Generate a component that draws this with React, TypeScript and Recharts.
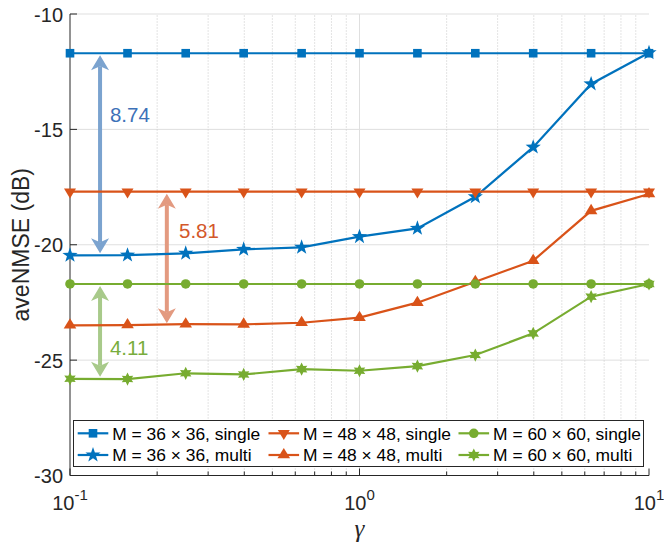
import { LineChart, Line, XAxis, YAxis, CartesianGrid, ReferenceLine, ReferenceDot, Legend } from 'recharts';

const gamma = [0.1, 0.158, 0.251, 0.398, 0.631, 1, 1.585, 2.512, 3.981, 6.31, 10];

const single36 = [-11.7, -11.7, -11.7, -11.7, -11.7, -11.7, -11.7, -11.7, -11.7, -11.7, -11.7];
const multi36 = [-20.46, -20.45, -20.37, -20.2, -20.11, -19.65, -19.29, -17.92, -15.77, -13.03, -11.68];
const single48 = [-17.7, -17.7, -17.7, -17.7, -17.7, -17.7, -17.7, -17.7, -17.7, -17.7, -17.7];
const multi48 = [-23.49, -23.48, -23.44, -23.45, -23.38, -23.16, -22.51, -21.6, -20.69, -18.53, -17.8];
const single60 = [-21.7, -21.7, -21.7, -21.7, -21.7, -21.7, -21.7, -21.7, -21.7, -21.7, -21.7];
const multi60 = [-25.81, -25.82, -25.57, -25.62, -25.39, -25.46, -25.26, -24.78, -23.84, -22.25, -21.7];

const majorX = [0.1, 1, 10];
const minorX = [0.2, 0.3, 0.4, 0.5, 0.6, 0.7, 0.8, 0.9, 2, 3, 4, 5, 6, 7, 8, 9];
const yTicks = [-30, -25, -20, -15, -10];

// gap annotations: arrow x, label position, label text
const gapX = [0.127, 0.216, 0.127];
const gapLabelX = [0.1374, 0.238, 0.1374];
const gapLabelY = [-14.67, -19.7, -24.78];
const gapText = ['8.74', '5.81', '4.11'];

const FONT = '"Liberation Sans", Arial, Helvetica, sans-serif';
const AXIS = '#262626';

const series = [
  { key: 's36', name: 'M = 36 \u00d7 36, single', color: '#0072BD', marker: 'square', values: single36 },
  { key: 'm36', name: 'M = 36 \u00d7 36, multi', color: '#0072BD', marker: 'star5', values: multi36 },
  { key: 's48', name: 'M = 48 \u00d7 48, single', color: '#D95319', marker: 'down', values: single48 },
  { key: 'm48', name: 'M = 48 \u00d7 48, multi', color: '#D95319', marker: 'up', values: multi48 },
  { key: 's60', name: 'M = 60 \u00d7 60, single', color: '#77AC30', marker: 'circle', values: single60 },
  { key: 'm60', name: 'M = 60 \u00d7 60, multi', color: '#77AC30', marker: 'star6', values: multi60 },
];

const gaps = [
  { top: single36, bottom: multi36, arrow: '#7BA3CF', text: '#3D71B8' },
  { top: single48, bottom: multi48, arrow: '#E39A80', text: '#D3582B' },
  { top: single60, bottom: multi60, arrow: '#A8CA8A', text: '#78AD3C' },
];

const data = gamma.map((g, i) => {
  const row: Record<string, number> = { gamma: g };
  series.forEach(s => { row[s.key] = s.values[i]; });
  return row;
});

function starPath(cx: number, cy: number, n: number, ro: number, ri: number) {
  let d = '';
  for (let k = 0; k < n * 2; k++) {
    const r = k % 2 === 0 ? ro : ri;
    const a = -Math.PI / 2 + (k * Math.PI) / n;
    d += (k === 0 ? 'M' : 'L') + (cx + r * Math.cos(a)).toFixed(2) + ',' + (cy + r * Math.sin(a)).toFixed(2);
  }
  return d + 'Z';
}

function Marker({ kind, cx, cy, color }: { kind: string; cx: number; cy: number; color: string }) {
  if (cx == null || cy == null) return null;
  switch (kind) {
    case 'square':
      return <rect x={cx - 4.3} y={cy - 4.3} width={8.6} height={8.6} fill={color} />;
    case 'circle':
      return <circle cx={cx} cy={cy} r={4.8} fill={color} />;
    case 'down':
      return <path d={`M${cx - 6},${cy - 3.3}L${cx + 6},${cy - 3.3}L${cx},${cy + 6.7}Z`} fill={color} />;
    case 'up':
      return <path d={`M${cx - 6.3},${cy + 3.3}L${cx + 6.3},${cy + 3.3}L${cx},${cy - 7}Z`} fill={color} />;
    case 'star5':
      return <path d={starPath(cx, cy, 5, 8, 3.2)} fill={color} />;
    case 'star6':
      return <path d={starPath(cx, cy, 6, 6.6, 3.5)} fill={color} />;
    default:
      return null;
  }
}

function BottomTick(props: any) {
  const { x, y, payload } = props;
  const v = payload.value;
  const major = majorX.includes(v);
  return (
    <g>
      <line x1={x} x2={x} y1={y} y2={y - (major ? 7 : 4)} stroke={AXIS} />
      {major && (
        <text x={x} y={y + 34.5} textAnchor="middle" fontSize={20} fill={AXIS} fontFamily={FONT}>
          10<tspan dy={-10} fontSize={15}>{Math.round(Math.log10(v))}</tspan>
        </text>
      )}
    </g>
  );
}

function TopTick(props: any) {
  const { x, y, payload } = props;
  const major = majorX.includes(payload.value);
  return <line x1={x} x2={x} y1={y} y2={y + (major ? 7 : 4)} stroke={AXIS} />;
}

function LeftTick(props: any) {
  const { x, y, payload } = props;
  return (
    <g>
      <line x1={x} x2={x + 7} y1={y} y2={y} stroke={AXIS} />
      <text x={x - 7} y={y + 7.5} textAnchor="end" fontSize={20} fill={AXIS} fontFamily={FONT}>
        {payload.value}
      </text>
    </g>
  );
}

function RightTick(props: any) {
  const { x, y } = props;
  return <line x1={x} x2={x - 7} y1={y} y2={y} stroke={AXIS} />;
}

function Arrow(props: any) {
  const { x1, y1, y2, color } = props;
  const top = Math.min(y1, y2) + 2;
  const bot = Math.max(y1, y2) - 2;
  const hl = 15, hw = 9, notch = 4;
  return (
    <g>
      <line x1={x1} x2={x1} y1={top + hl - notch} y2={bot - hl + notch} stroke={color} strokeWidth={4} />
      <path d={`M${x1},${top}L${x1 + hw},${top + hl}L${x1},${top + hl - notch}L${x1 - hw},${top + hl}Z`} fill={color} />
      <path d={`M${x1},${bot}L${x1 + hw},${bot - hl}L${x1},${bot - hl + notch}L${x1 - hw},${bot - hl}Z`} fill={color} />
    </g>
  );
}

const colX = [4.7, 195.5, 385.5];
const rowY = [13.3, 35];

function LegendBox() {
  return (
    <svg width={571} height={47} style={{ display: 'block' }}>
      <rect x={0.5} y={0.5} width={570} height={46} fill="#fff" stroke={AXIS} strokeWidth={1} />
      {series.map((s, i) => {
        const x0 = colX[Math.floor(i / 2)];
        const cy = rowY[i % 2];
        return (
          <g key={s.key}>
            <line x1={x0} x2={x0 + 30.6} y1={cy} y2={cy} stroke={s.color} strokeWidth={2.2} />
            <Marker kind={s.marker} cx={x0 + 15.3} cy={cy} color={s.color} />
            <text x={x0 + 34.6} y={cy + 6.2} fontSize={17.4} fill="#000" fontFamily={FONT}>
              {s.name}
            </text>
          </g>
        );
      })}
    </svg>
  );
}

export default function App() {
  return (
    <div style={{ width: 664, height: 545, background: '#fff' }}>
      <style>{'body{margin:0}'}</style>
      <LineChart
        width={664}
        height={545}
        data={data}
        margin={{ top: 14, right: 15, bottom: 0, left: 0 }}
        style={{ fontFamily: FONT }}
      >
        <CartesianGrid vertical={false} stroke="#dfdfdf" />
        {minorX.map(v => (
          <ReferenceLine key={v} x={v} stroke="#c8c8c8" strokeDasharray="1 2" />
        ))}
        <ReferenceLine x={1} stroke="#dfdfdf" />
        <XAxis
          dataKey="gamma"
          type="number"
          scale="log"
          domain={[0.1, 10]}
          ticks={[...majorX, ...minorX]}
          interval={0}
          height={69.5}
          tickSize={0}
          tickMargin={0}
          tick={BottomTick}
          axisLine={{ stroke: AXIS }}
          label={(p: any) => (
            <text
              x={p.viewBox.x + p.viewBox.width / 2}
              y={p.viewBox.y + 61}
              textAnchor="middle"
              fontSize={25}
              fontStyle="italic"
              fill={AXIS}
              fontFamily='"Liberation Serif", "Times New Roman", serif'
            >
              {'\u03b3'}
            </text>
          )}
        />
        <XAxis
          xAxisId="top"
          orientation="top"
          type="number"
          scale="log"
          domain={[0.1, 10]}
          allowDataOverflow
          ticks={[...majorX, ...minorX]}
          interval={0}
          height={0}
          tickSize={0}
          tickMargin={0}
          tick={TopTick}
          axisLine={{ stroke: AXIS }}
        />
        <YAxis
          type="number"
          domain={[-30, -10]}
          ticks={yTicks}
          interval={0}
          width={70}
          tickSize={0}
          tickMargin={0}
          tick={LeftTick}
          axisLine={{ stroke: AXIS }}
          label={(p: any) => {
            const cy = p.viewBox.y + p.viewBox.height / 2;
            return (
              <text x={28.5} y={cy} transform={`rotate(-90 28.5 ${cy})`} textAnchor="middle" fontSize={23} fill={AXIS} fontFamily={FONT}>
                aveNMSE (dB)
              </text>
            );
          }}
        />
        <YAxis
          yAxisId="right"
          orientation="right"
          type="number"
          domain={[-30, -10]}
          allowDataOverflow
          ticks={yTicks}
          interval={0}
          width={0}
          tickSize={0}
          tickMargin={0}
          tick={RightTick}
          axisLine={{ stroke: AXIS }}
        />
        {gaps.map((g, i) => (
          <ReferenceLine
            key={'arrow' + i}
            segment={[{ x: gapX[i], y: g.top[0] }, { x: gapX[i], y: g.bottom[0] }]}
            shape={(p: any) => <Arrow {...p} color={g.arrow} />}
          />
        ))}
        {gaps.map((g, i) => (
          <ReferenceDot
            key={'lbl' + i}
            x={gapLabelX[i]}
            y={gapLabelY[i]}
            shape={(p: any) => (
              <text x={p.cx} y={p.cy} fontSize={20.5} fill={g.text} fontFamily={FONT}>
                {gapText[i]}
              </text>
            )}
          />
        ))}
        {series.map(s => (
          <Line
            key={s.key}
            dataKey={s.key}
            name={s.name}
            stroke={s.color}
            strokeWidth={2.2}
            isAnimationActive={false}
            dot={(p: any) => <Marker key={s.key + p.index} kind={s.marker} cx={p.cx} cy={p.cy} color={s.color} />}
            activeDot={false}
          />
        ))}
        <Legend
          layout="horizontal"
          verticalAlign="middle"
          align="center"
          wrapperStyle={{ left: 73, top: 420, width: 571, height: 47 }}
          content={() => <LegendBox />}
        />
      </LineChart>
    </div>
  );
}
